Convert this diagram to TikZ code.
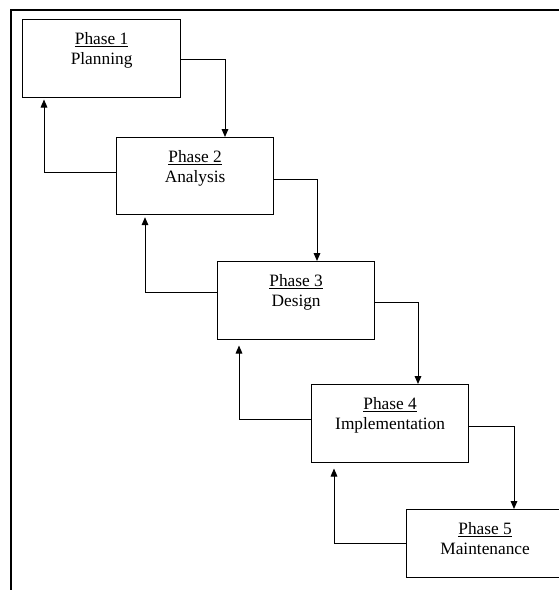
\documentclass[tikz,border=0pt]{standalone}
\usepackage{fontspec}
\setmainfont{Liberation Serif}
\usetikzlibrary{calc,arrows.meta}
\begin{document}
\begin{tikzpicture}[x=0.75pt,y=-0.75pt,
  phasebox/.style={draw,line width=0.9pt,minimum width=157*0.75pt,minimum height=78*0.75pt,inner sep=0pt,anchor=north west},
  ttl/.style={font=\fontsize{13pt}{15pt}\selectfont,inner sep=0pt,anchor=base},
  conn/.style={line width=0.75pt,-{Triangle[length=6pt,width=5pt]}},
  frame/.style={line width=2pt}]
\clip (0,0) rectangle (559,590);
\useasboundingbox (0,0) rectangle (559,590);
\fill[white] (0,0) rectangle (559,590);
\draw[frame] (11,10) rectangle (620,650);
% boxes
\node[phasebox,minimum width=158*0.75pt] (p1) at (22,19) {};
\node[phasebox,minimum height=77*0.75pt] (p2) at (116,137) {};
\node[phasebox] (p3) at (217,261) {};
\node[phasebox] (p4) at (311,384) {};
\node[phasebox,minimum height=68*0.75pt] (p5) at (406,509) {};
% texts
\node[ttl] (h1) at ($(p1.north)+(0,25.5)$) {\underline{Phase 1}};
\node[ttl] (n1) at ($(p1.north)+(0,45.5)$) {Planning};
\node[ttl] (h2) at ($(p2.north)+(0,25.5)$) {\underline{Phase 2}};
\node[ttl] (n2) at ($(p2.north)+(0,45.5)$) {Analysis};
\node[ttl] (h3) at ($(p3.north)+(0,25.5)$) {\underline{Phase 3}};
\node[ttl] (n3) at ($(p3.north)+(0,45.5)$) {Design};
\node[ttl] (h4) at ($(p4.north)+(0,25.5)$) {\underline{Phase 4}};
\node[ttl] (n4) at ($(p4.north)+(0,45.5)$) {Implementation};
\node[ttl] (h5) at ($(p5.north)+(0,25.5)$) {\underline{Phase 5}};
\node[ttl] (n5) at ($(p5.north)+(0,45.5)$) {Maintenance};
% forward connectors
\draw[conn] ($(p1.north east)+(0,40)$) -| ($(p2.north west)+(109,0)$);
\draw[conn] ($(p2.north east)+(0,42)$) -| ($(p3.north west)+(100,0)$);
\draw[conn] ($(p3.north east)+(0,41)$) -| ($(p4.north west)+(107,0)$);
\draw[conn] ($(p4.north east)+(0,42)$) -| ($(p5.north west)+(108,0)$);
% backward connectors
\draw[conn,shorten >=1pt] ($(p2.north west)+(0,35)$) -| ($(p1.south west)+(22,0)$);
\draw[conn,shorten >=1.5pt] ($(p3.north west)+(0,31)$) -| ($(p2.south west)+(29,0)$);
\draw[conn,shorten >=4pt] ($(p4.north west)+(0,35)$) -| ($(p3.south west)+(22,0)$);
\draw[conn,shorten >=4pt] ($(p5.north west)+(0,34)$) -| ($(p4.south west)+(23,0)$);
\end{tikzpicture}
\end{document}
